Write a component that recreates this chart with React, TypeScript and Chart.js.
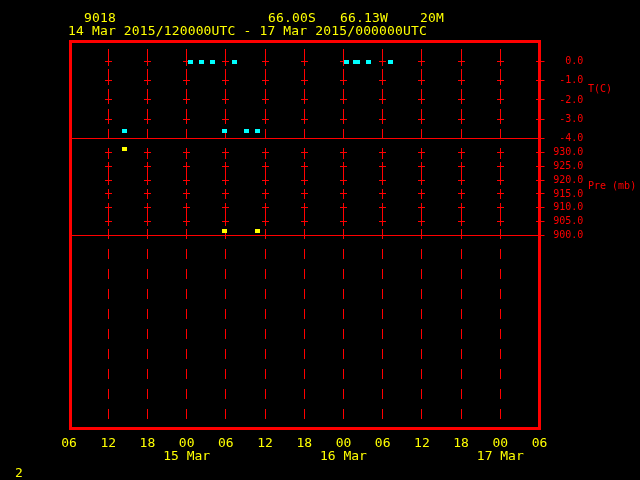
import React, { useEffect, useRef } from 'react';
import { Chart, registerables } from 'chart.js';

Chart.register(...registerables);

const RED = '#ff0000';
const YELLOW = '#ffff00';
const CYAN = '#00ffff';
const MONO = '"DejaVu Sans Mono", "Liberation Mono", monospace';

// Time axis: hours since 14 Mar 2015 00 UTC
const hourTicks = [6, 12, 18, 24, 30, 36, 42, 48, 54, 60, 66, 72, 78];
const dayTickHours = [24, 48, 72];
const dayNames = ['15 Mar', '16 Mar', '17 Mar'];

const tempTicks = [0, -1, -2, -3, -4];
const presTicks = [930, 925, 920, 915, 910, 905, 900];

// Temperature (C)
const tempHours = [14.5, 24.57, 26.28, 27.89, 29.8, 31.3, 33.17, 34.85, 48.4, 49.9, 50.2, 51.81, 55.18];
const tempValues = [-3.6, 0, 0, 0, -3.6, 0, -3.6, -3.6, 0, 0, 0, 0, 0];

// Pressure (mb)
const presHours = [14.5, 29.8, 34.85];
const presValues = [931.3, 901.6, 901.6];

const headerTop = ['9018', '66.00S', '66.13W', '20M'];
const headerRange = '14 Mar 2015/120000UTC - 17 Mar 2015/000000UTC';
const tempTitle = 'T(C)';
const presTitle = 'Pre (mb)';
const pageLabel = '2';

function makeRect(color: string, w: number, h: number) {
  const c = document.createElement('canvas');
  c.width = w;
  c.height = h;
  const g = c.getContext('2d')!;
  g.fillStyle = color;
  g.fillRect(0, 0, w, h);
  return c;
}

const align = (p: number) => Math.round(p - 0.5) + 0.5;

const crossPlugin = {
  id: 'crosses',
  beforeDatasetsDraw(chart: any) {
    const { ctx, scales } = chart;
    const xs = scales.x;
    ctx.save();
    ctx.strokeStyle = RED;
    ctx.lineWidth = 1;
    ctx.beginPath();
    ['yT', 'yP'].forEach((id) => {
      const ys = scales[id];
      ys.ticks.forEach((t: any) => {
        if (t.value === ys.min) return;
        const py = align(ys.getPixelForValue(t.value));
        xs.ticks.forEach((xt: any, i: number) => {
          if (i === 0) return;
          const px = align(xs.getPixelForValue(xt.value));
          ctx.moveTo(px - 3.5, py);
          ctx.lineTo(px + 3.5, py);
          ctx.moveTo(px, py - 4.5);
          ctx.lineTo(px, py + 4.5);
        });
      });
    });
    ctx.stroke();
    ctx.restore();
  },
};

const framePlugin = {
  id: 'frame',
  afterDraw(chart: any) {
    const { ctx, chartArea, scales } = chart;
    ctx.save();
    // frame
    ctx.strokeStyle = RED;
    ctx.lineWidth = 3;
    ctx.strokeRect(
      Math.round(chartArea.left) + 1.5,
      Math.round(chartArea.top) + 0.5,
      Math.round(chartArea.right) - Math.round(chartArea.left) - 2,
      Math.round(chartArea.bottom) - Math.round(chartArea.top)
    );
    // header
    ctx.fillStyle = YELLOW;
    ctx.font = `13px ${MONO}`;
    ctx.textAlign = 'left';
    ctx.textBaseline = 'middle';
    try { (ctx as any).letterSpacing = '0.15px'; } catch (e) {}
    const topX = [84, 268, 340, 420];
    headerTop.forEach((s, i) => ctx.fillText(s, topX[i], 18.5));
    ctx.fillText(headerRange, 68, 31.5);
    ctx.fillText(pageLabel, 15, 474);
    try { (ctx as any).letterSpacing = '0px'; } catch (e) {}
    // axis titles
    ctx.fillStyle = RED;
    ctx.font = `10px ${MONO}`;
    const yT = scales.yT;
    const yP = scales.yP;
    ctx.fillText(tempTitle, 588, (yT.top + yT.bottom) / 2);
    ctx.fillText(presTitle, 588, (yP.top + yP.bottom) / 2);
    ctx.restore();
  },
};

export default function App() {
  const ref = useRef<HTMLCanvasElement>(null);

  useEffect(() => {
    const canvas = ref.current!;
    const cyanRect = makeRect(CYAN, 5, 4);
    const yellowRect = makeRect(YELLOW, 5, 4);

    const yAxisCommon = {
      type: 'linear' as const,
      position: 'right' as const,
      stack: 'panels',
      afterFit: (s: any) => { s.width = 100.5; },
      border: { display: false },
      ticks: {
        autoSkip: false,
        color: RED,
        padding: 8.7,
        crossAlign: 'near' as const,
        font: { family: MONO, size: 10 },
        callback: (v: any) => Number(v).toFixed(1).padStart(5, ' '),
      },
    };

    const chart = new Chart(canvas, {
      type: 'scatter',
      data: {
        datasets: [
          {
            label: 'T',
            data: tempHours.map((h, i) => ({ x: h, y: tempValues[i] })),
            yAxisID: 'yT',
            pointStyle: cyanRect as any,
            backgroundColor: CYAN,
            borderColor: CYAN,
            showLine: false,
          },
          {
            label: 'Pre',
            data: presHours.map((h, i) => ({ x: h, y: presValues[i] })),
            yAxisID: 'yP',
            pointStyle: yellowRect as any,
            backgroundColor: YELLOW,
            borderColor: YELLOW,
            showLine: false,
          },
        ],
      },
      options: {
        responsive: false,
        animation: false,
        devicePixelRatio: 1,
        events: [],
        layout: { padding: { left: 69, top: 41, right: 0, bottom: 0 } },
        plugins: {
          legend: { display: false },
          title: { display: false },
          tooltip: { enabled: false },
        },
        scales: {
          x: {
            type: 'linear',
            position: 'bottom',
            min: 6,
            max: 78,
            afterBuildTicks: (s: any) => { s.ticks = hourTicks.map((v) => ({ value: v })); },
            afterFit: (s: any) => { s.height = 52; },
            border: { display: false, dash: [10, 10], dashOffset: 12 },
            grid: { color: RED, lineWidth: 1, drawTicks: false },
            ticks: {
              autoSkip: false,
              maxRotation: 0,
              minRotation: 0,
              padding: 9,
              color: YELLOW,
              font: { family: MONO, size: 13, lineHeight: '13px' },
              callback: (v: any) => {
                const hh = String(Number(v) % 24).padStart(2, '0');
                const di = dayTickHours.indexOf(Number(v));
                return di >= 0 ? [hh, dayNames[di]] : hh;
              },
            },
          },
          yT: {
            ...yAxisCommon,
            stackWeight: 97.3,
            min: -4,
            max: 1.08,
            afterBuildTicks: (s: any) => { s.ticks = tempTicks.map((v) => ({ value: v })); },
            grid: {
              drawOnChartArea: true,
              drawTicks: true,
              tickLength: 5,
              tickColor: RED,
              tickWidth: 1,
              lineWidth: 1,
              color: (c: any) => (c.tick && c.tick.value === -4 ? RED : 'rgba(0,0,0,0)'),
            },
          },
          yP: {
            ...yAxisCommon,
            stackWeight: 97,
            min: 900,
            max: 935.2,
            afterBuildTicks: (s: any) => { s.ticks = presTicks.map((v) => ({ value: v })); },
            grid: {
              drawOnChartArea: true,
              drawTicks: true,
              tickLength: 5,
              tickColor: RED,
              tickWidth: 1,
              lineWidth: 1,
              color: (c: any) => (c.tick && c.tick.value === 900 ? RED : 'rgba(0,0,0,0)'),
            },
          },
          yE: {
            type: 'linear',
            position: 'right',
            stack: 'panels',
            stackWeight: 192.7,
            min: 0,
            max: 1,
            afterFit: (s: any) => { s.width = 100.5; },
            border: { display: false },
            grid: { display: false },
            ticks: { display: false },
          },
        } as any,
      },
      plugins: [crossPlugin, framePlugin],
    });

    return () => chart.destroy();
  }, []);

  return (
    <div style={{ position: 'fixed', left: 0, top: 0, width: 640, height: 480, background: '#000' }}>
      <canvas ref={ref} width={640} height={480} style={{ display: 'block', width: 640, height: 480 }} />
    </div>
  );
}
